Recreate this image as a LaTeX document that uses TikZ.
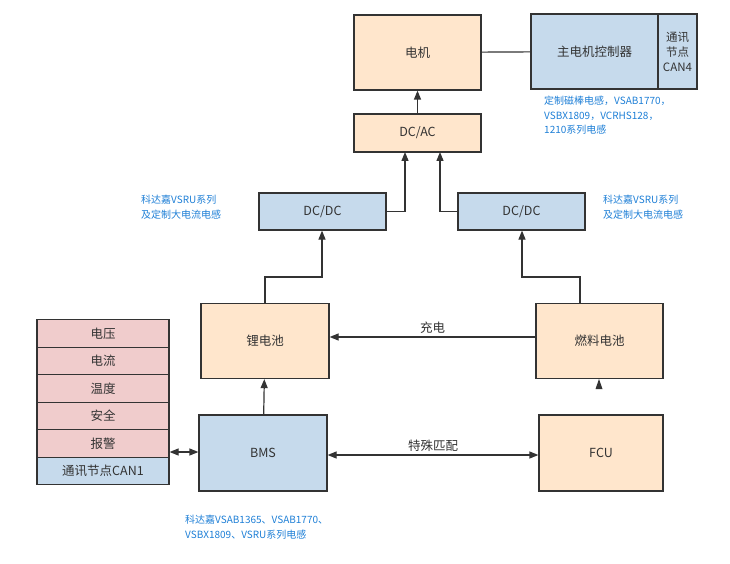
\documentclass[tikz,border=0pt]{standalone}
\usepackage{fontspec}
\setmainfont{Noto Sans CJK SC}
\usetikzlibrary{positioning,arrows.meta}
\definecolor{orfill}{HTML}{FFE6CC}
\definecolor{blfill}{HTML}{C6DAEC}
\definecolor{pkfill}{HTML}{F0CCCC}
\definecolor{note}{HTML}{1E7FD6}
\definecolor{edge}{HTML}{333333}
\begin{document}
\begin{tikzpicture}[x=1pt,y=-1pt,font=\fontsize{12.5}{15}\selectfont]
	\tikzstyle{box}=[draw=edge,line width=1.2pt,inner sep=0pt,text=black!80]
	\tikzstyle{orbox}=[box,fill=orfill]
	\tikzstyle{blbox}=[box,fill=blfill]
	\tikzstyle{pkbox}=[box,fill=pkfill,minimum width=132pt,minimum height=27.5pt]
	\tikzstyle{conn}=[draw=edge,line width=1.2pt,-{Triangle[length=9pt,width=7pt]}]
	\tikzstyle{noteline}=[text=note,font=\fontsize{10}{14.5}\selectfont,align=left,anchor=north west,inner sep=0pt]
	\useasboundingbox (0,0) rectangle (730,564);
		\node[orbox,minimum width=127pt,minimum height=75pt] (motor) at (417.5,52.5) {电机};
		\node[orbox,minimum width=127pt,minimum height=38pt] (dcac) at (417.5,133) {DC/AC};
		\node[blbox,minimum width=127pt,minimum height=75pt] (ctrl) at (594.5,51.5) {主电机控制器};
		\node[blbox,minimum width=39pt,minimum height=75pt,align=center,font=\fontsize{11.5}{15}\selectfont] (can4) at (677.5,51.5) {通讯\\节点\\CAN4};
		\node[blbox,minimum width=127pt,minimum height=37pt] (dcl) at (322.5,211.5) {DC/DC};
		\node[blbox,minimum width=127pt,minimum height=37pt] (dcr) at (521.5,211.5) {DC/DC};
		\node[orbox,minimum width=128pt,minimum height=75pt] (li) at (265,341) {锂电池};
		\node[orbox,minimum width=127pt,minimum height=75pt] (fc) at (599.5,341) {燃料电池};
		\node[blbox,minimum width=128pt,minimum height=76pt] (bms) at (263,453) {BMS};
		\node[orbox,minimum width=124pt,minimum height=76pt] (fcu) at (601,453) {FCU};
		% stack of BMS signals
		\node[pkbox] (volt) at (103,333.5) {电压};
		\node[pkbox,below=-1.2pt of volt] (curr) {电流};
		\node[pkbox,below=-1.2pt of curr] (temp) {温度};
		\node[pkbox,below=-1.2pt of temp] (safe) {安全};
		\node[pkbox,below=-1.2pt of safe] (alarm) {报警};
		\node[pkbox,fill=blfill,below=-1.2pt of alarm] (can1) {通讯节点CAN1};
		% notes
		\node[noteline] (n1) at (544,96) {定制磁棒电感，VSAB1770，\\VSBX1809，VCRHS128，\\1210系列电感};
		\node[noteline] (n2) at (141,195) {科达嘉VSRU系列\\及定制大电流电感};
		\node[noteline] (n3) at (603,195) {科达嘉VSRU系列\\及定制大电流电感};
		\node[noteline] (n4) at (185,515) {科达嘉VSAB1365、VSAB1770、\\VSBX1809、VSRU系列电感};
		\coordinate (fctip) at (599,379);
			\draw[draw=edge,line width=1.2pt] (motor) -- (ctrl);
			\draw[conn] (dcac) -- (motor);
			\draw[conn] (dcl.east) -| (405,152);
			\draw[conn] (dcr.west) -| (440,152);
			\draw[conn] (li.north) |- (322,277) -- (dcl.south -| 322,0);
			\draw[conn] (fc.north -| 580,0) |- (522,277) -- (dcr.south -| 522,0);
			\draw[conn] (fc.west |- 0,337) -- node[above,text=black!80] {充电} (li.east |- 0,337);
			\draw[conn] (bms) -- (li);
			\fill[edge] (fctip) -- ++(-3.5,10) -- ++(7,0) -- cycle;
			\draw[conn,{Triangle[length=9pt,width=7pt]}-{Triangle[length=9pt,width=7pt]}] (bms.east |- 0,455) -- node[above,text=black!80] {特殊匹配} (fcu.west |- 0,455);
			\draw[conn,{Triangle[length=9pt,width=7pt]}-{Triangle[length=9pt,width=7pt]}] (alarm.east |- 0,452) -- (bms.west |- 0,452);
\end{tikzpicture}
\end{document}
